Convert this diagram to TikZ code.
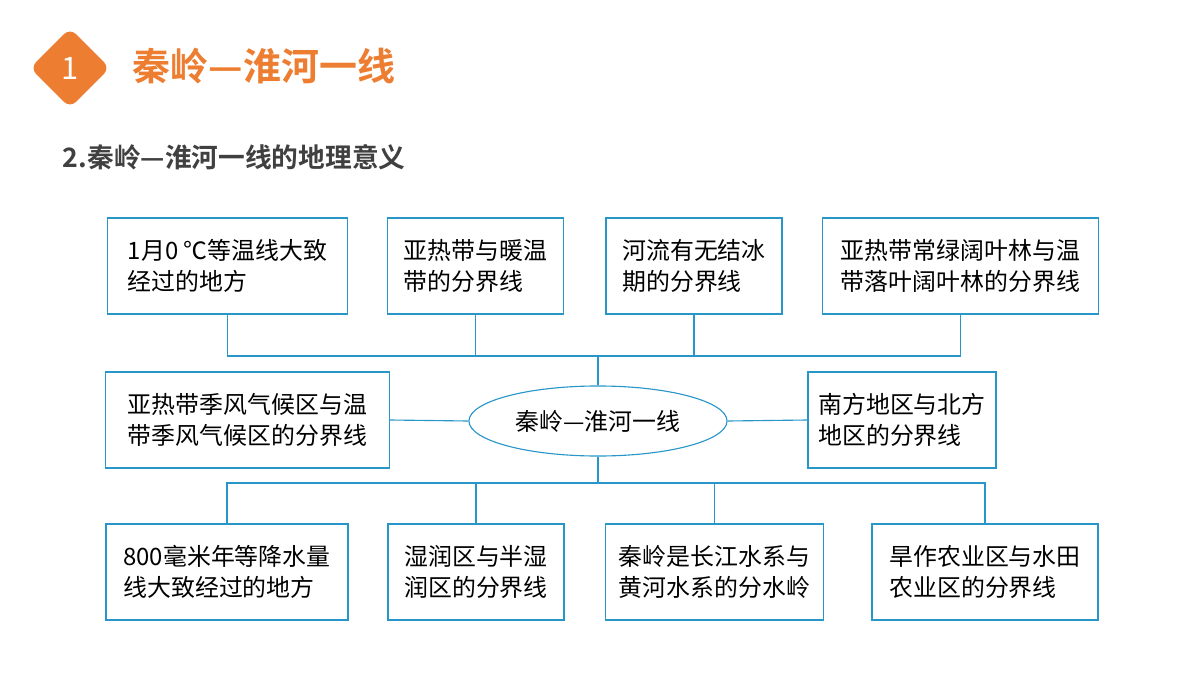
\documentclass[tikz,border=0pt]{standalone}
\usepackage{fontspec}
\setmainfont{Noto Sans CJK SC}
\newfontfamily\cjkbold{Noto Sans CJK SC Bold}
\usetikzlibrary{shapes.geometric}
\definecolor{boxblue}{RGB}{40,150,200}
\definecolor{titleorange}{RGB}{237,125,49}
\definecolor{darktext}{RGB}{64,64,64}
\begin{document}
\begin{tikzpicture}[x=0.025cm,y=-0.025cm,
        box/.style={draw=boxblue,thick,inner sep=0pt,align=left,font=\fontsize{17}{22}\selectfont,text=black},
        link/.style={draw=boxblue,thick}]
    \useasboundingbox (0,0) rectangle (1200,675);

    % header
    \node[diamond,fill=titleorange,rounded corners=6pt,minimum width=76\pgflinewidth,inner sep=0pt,
          minimum size=2.0cm,text=white,font=\fontsize{22}{22}\selectfont] (num) at (70,68) {1};
    \node[anchor=west,text=titleorange,font=\cjkbold\fontsize{27}{27}\selectfont] (title) at (128,66) {秦岭—淮河一线};
    \node[anchor=west,text=darktext,font=\cjkbold\fontsize{19}{19}\selectfont] (sub) at (58,157) {2.秦岭—淮河一线的地理意义};

    % centre
    \node[ellipse,draw=boxblue,thick,minimum width=6.45cm,minimum height=1.75cm,
          font=\fontsize{17}{22}\selectfont] (core) at (598,421) {秦岭—淮河一线};

    % top row
    \node[box,minimum width=5.98cm,minimum height=2.4cm] (t1) at (227.5,266) {1月0 ℃等温线大致\\经过的地方};
    \node[box,minimum width=4.38cm,minimum height=2.4cm] (t2) at (475.5,266) {亚热带与暖温\\带的分界线};
    \node[box,minimum width=4.4cm,minimum height=2.4cm] (t3) at (694,266) {河流有无结冰\\期的分界线};
    \node[box,minimum width=6.88cm,minimum height=2.4cm] (t4) at (960.5,266) {亚热带常绿阔叶林与温\\带落叶阔叶林的分界线};

    % middle row
    \node[box,minimum width=7.08cm,minimum height=2.4cm] (m1) at (247.5,420) {亚热带季风气候区与温\\带季风气候区的分界线};
    \node[box,minimum width=4.7cm,minimum height=2.4cm] (m2) at (902,420) {南方地区与北方\\地区的分界线};

    % bottom row
    \node[box,minimum width=6.05cm,minimum height=2.4cm] (b1) at (227,572) {800毫米年等降水量\\线大致经过的地方};
    \node[box,minimum width=4.4cm,minimum height=2.4cm] (b2) at (476,572) {湿润区与半湿\\润区的分界线};
    \node[box,minimum width=5.43cm,minimum height=2.4cm] (b3) at (714.5,572) {秦岭是长江水系与\\黄河水系的分水岭};
    \node[box,minimum width=5.65cm,minimum height=2.4cm] (b4) at (985,572) {旱作农业区与水田\\农业区的分界线};

    % connectors
    \coordinate (topbar) at (598,356);
    \coordinate (botbar) at (598,483);
    \draw[link] (core.north) -- (topbar);
    \draw[link] (core.south) -- (botbar);
    \draw[link] (t1.south) |- (topbar) -| (t4.south);
    \draw[link] (t2.south) -- (t2.south |- topbar);
    \draw[link] (t3.south) -- (t3.south |- topbar);
    \draw[link] (b1.north) |- (botbar) -| (b4.north);
    \draw[link] (b2.north) -- (b2.north |- botbar);
    \draw[link] (b3.north) -- (b3.north |- botbar);
    \draw[link] (core.west) -- (m1.east);
    \draw[link] (core.east) -- (m2.west);
\end{tikzpicture}
\end{document}
